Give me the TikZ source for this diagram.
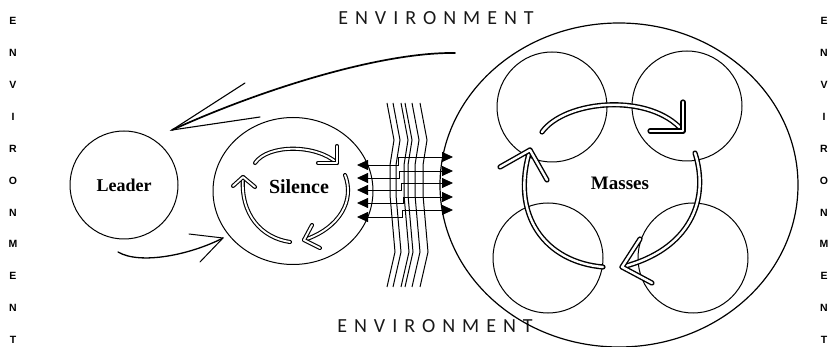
\documentclass[tikz,border=0pt]{standalone}
\usepackage{fontspec}
\setmainfont{Liberation Serif}
\newfontfamily\envfont[LetterSpace=35]{Carlito}
\newfontfamily\sidefont{Liberation Sans}
\usetikzlibrary{arrows.meta,shapes.geometric}
\begin{document}
\begin{tikzpicture}[x=1pt,y=-1pt,
  ring/.style={draw, line width=1pt, inner sep=0pt},
  lbl/.style={font=\bfseries\fontsize{19}{19}\selectfont},
  envtxt/.style={font=\envfont\fontsize{20}{20}\selectfont, text=black!90},
  sidelet/.style={font=\sidefont\bfseries\fontsize{10.5}{10.5}\selectfont, inner sep=0pt},
  dblS/.style={draw, line width=1.1pt, double=white, double distance=1.9pt, line cap=round, line join=round},
  dblM/.style={draw, line width=1.4pt, double=white, double distance=2.4pt, line cap=round, line join=round},
  thinarrow/.style={draw, line width=1.3pt, line cap=round},
  link/.style={draw, line width=0.8pt, {Triangle[length=11pt,width=10pt]}-{Triangle[length=11pt,width=10pt]}},
  wave/.style={draw, line width=1pt}
]
\useasboundingbox (0,0) rectangle (830,347);

% side letters
\foreach \l [count=\i from 0] in {E,N,V,I,R,O,N,M,E,N,T} {
  \node[sidelet] (lv\i) at (13,21+31.9*\i) {\l};
  \node[sidelet] (rv\i) at (824,21+31.9*\i) {\l};
}

% environment labels
\node[envtxt] (envtop) at (436,18) {ENVIRONMENT};
\node[envtxt] (envbot) at (435,326) {ENVIRONMENT};

% main circles
\node[ring, circle, minimum size=108pt, lbl, font=\bfseries\fontsize{18}{18}\selectfont] (leader) at (124,185) {Leader};
\node[ring, ellipse, minimum width=160pt, minimum height=147pt] (silence) at (293,191) {};
\node[lbl, font=\bfseries\fontsize{20}{20}\selectfont] (silencetxt) at (299,187) {Silence};
\node[ring, ellipse, line width=1.2pt, minimum width=358pt, minimum height=324pt] (masses) at (619,185) {};
\node[ring, circle, minimum size=110pt] (m1) at (552,107) {};
\node[ring, circle, minimum size=110pt] (m2) at (687,106) {};
\node[ring, circle, minimum size=110pt] (m3) at (548,258) {};
\node[ring, circle, minimum size=110pt] (m4) at (693,258) {};
\node[lbl] (massestxt) at (620,183) {Masses};

% wavy boundary lines
\foreach \x in {387,393,401,405,412,420}
  \draw[wave] (\x,103) -- (\x+7,140) -- (\x+3,165) -- (\x+3,195) -- (\x+8,252) -- (\x,287);

% links between silence and masses
\foreach \ly/\ry/\sx [count=\k] in {165/157/398,178/171/399,190/183/401,203/197/403,217/210/402} {
  \coordinate (L\k) at (357,\ly);
  \coordinate (R\k) at (453,\ry);
  \coordinate (S\k) at (\sx,\ly);
  \draw[link] (L\k) -- (S\k) -- (S\k |- R\k) -- (R\k);
}

% silence cycle arrows
\coordinate (s1a) at (255,163); \coordinate (s1b) at (337,163);
\draw[dblS] (s1a) .. controls (268,144) and (316,144) .. (s1b);
\draw[dblS] (318,163) -- (s1b) -- (337,146);
\coordinate (s2a) at (345,175); \coordinate (s2b) at (304,240);
\draw[dblS] (s2a) .. controls (355,200) and (340,228) .. (s2b);
\draw[dblS] (312,225) -- (s2b) -- (320,248);
\coordinate (s3a) at (290,242); \coordinate (s3b) at (243,177);
\draw[dblS] (s3a) .. controls (262,238) and (240,215) .. (s3b);
\draw[dblS] (233,186) -- (s3b) -- (255,187);

% masses cycle arrows
\coordinate (q1a) at (542,132); \coordinate (q1b) at (683,131);
\draw[dblM] (q1a) .. controls (565,100) and (650,92) .. (q1b);
\draw[dblM] (650,131) -- (q1b) -- (683,102);
\coordinate (q2a) at (695,153); \coordinate (q2b) at (622,267);
\draw[dblM] (q2a) .. controls (710,200) and (690,250) .. (q2b);
\draw[dblM] (640,239) -- (q2b) -- (652,283);
\coordinate (q3a) at (603,267); \coordinate (q3b) at (530,150);
\draw[dblM] (q3a) .. controls (545,262) and (510,215) .. (q3b);
\draw[dblM] (500,167) -- (q3b) -- (547,180);

% arrow from environment back to leader
\coordinate (fbstart) at (455,53); \coordinate (fbtip) at (172,130);
\draw[thinarrow, line width=1.7pt] (fbstart) .. controls (380,52) and (260,90) .. (fbtip);
\draw[thinarrow, line width=1.1pt] (245,83) -- (fbtip) -- (260,117);

% arrow from leader into silence
\coordinate (inStart) at (118,252); \coordinate (inTip) at (223,238);
\draw[thinarrow] (inStart) .. controls (140,265) and (190,255) .. (inTip);
\draw[thinarrow, line width=1pt] (189,234) -- (inTip) -- (200,262);
\end{tikzpicture}
\end{document}
